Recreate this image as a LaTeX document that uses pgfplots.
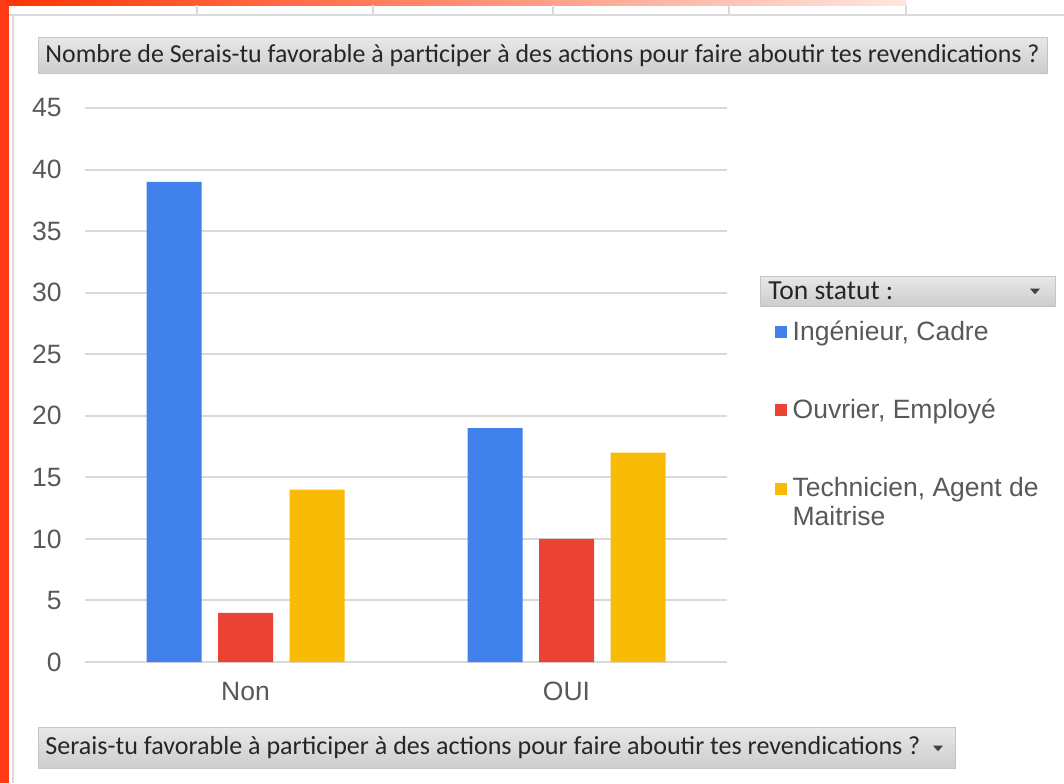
\documentclass[border=0pt]{standalone}
\usepackage{fontspec}
\setmainfont{Liberation Sans}
\newfontfamily\btnfont{Carlito}
\usepackage{pgfplots}
\pgfplotsset{compat=1.18}
\definecolor{cblue}{HTML}{4081EC}
\definecolor{cred}{HTML}{EA4335}
\definecolor{cyellow}{HTML}{F9BB06}
\definecolor{cgrid}{HTML}{D9D9D9}
\definecolor{ctick}{HTML}{595959}
\definecolor{ctop}{HTML}{FF3300}
\definecolor{cleft}{HTML}{FF3A14}
\definecolor{btntop}{HTML}{E8E8E8}
\definecolor{btnbot}{HTML}{CDCDCD}
\definecolor{btnline}{HTML}{C4C4C4}
\definecolor{xlgrid}{HTML}{DADADA}
\pgfplotsset{
  sqimg/.style={legend image code/.code={\fill[##1] (0pt,-3pt) rectangle (6pt,3pt);}},
  sqimgup/.style={legend image code/.code={\fill[##1] (0pt,4.25pt) rectangle (6pt,10.25pt);}},
}
\begin{document}
\begin{tikzpicture}
\useasboundingbox (0,0) rectangle (532pt,-391.5pt);
\fill[white] (0,0) rectangle (532pt,-391.5pt);
% spreadsheet surroundings
\shade[left color=ctop, right color=ctop!12] (0,0) rectangle (453pt,-2.5pt);
\foreach \xx in {98.5,186.5,276.5,364.5,453}{\draw[xlgrid, line width=0.6pt] (\xx pt,-2.5pt) -- (\xx pt,-7.5pt);}
\draw[xlgrid, line width=0.8pt] (4.5pt,-7.6pt) -- (532pt,-7.6pt);
\draw[xlgrid, line width=0.8pt] (6.6pt,-8pt) -- (6.6pt,-391.5pt);
\fill[cleft] (0,0) rectangle (4.5pt,-391.5pt);
% title button
\shade[top color=btntop, bottom color=btnbot, draw=btnline, line width=0.4pt] (19pt,-18.5pt) rectangle (523.5pt,-36.5pt);
\node[anchor=west, inner sep=0pt, text=black!85] at (22.5pt,-27.6pt) {\resizebox{497pt}{!}{\btnfont Nombre de Serais-tu favorable à participer à des actions pour faire aboutir tes revendications ?}};
% bottom field button
\shade[top color=btntop, bottom color=btnbot, draw=btnline, line width=0.4pt] (19pt,-363.5pt) rectangle (477.5pt,-384pt);
\node[anchor=west, inner sep=0pt, text=black!85] at (22.5pt,-374pt) {\resizebox{437.5pt}{!}{\btnfont Serais-tu favorable à participer à des actions pour faire aboutir tes revendications ?}};
\fill[black!75] (466.5pt,-372.8pt) -- (471.5pt,-372.8pt) -- (469pt,-375.6pt) -- cycle;
% legend header button
\shade[top color=btntop, bottom color=btnbot, draw=btnline, line width=0.4pt] (380pt,-138pt) rectangle (527.5pt,-153pt);
\node[anchor=west, inner sep=0pt, text=black!85] at (384pt,-145.5pt) {\resizebox{62.5pt}{!}{\btnfont Ton statut :}};
\fill[black!75] (515pt,-144.3pt) -- (520pt,-144.3pt) -- (517.5pt,-147.1pt) -- cycle;
\begin{axis}[
  at={(42.5pt,-331pt)}, anchor=south west,
  scale only axis, width=321pt, height=277pt,
  xmin=-0.5, xmax=1.5, ymin=0, ymax=45,
  ybar=8.25pt, bar width=27.5pt,
  xtick={0,1}, xticklabels={Non,OUI},
  ytick={0,5,...,45},
  axis line style={draw=none},
  major tick length=0pt,
  ymajorgrids, major grid style={cgrid, line width=1pt},
  /pgf/number format/assume math mode=true,
  tick label style={font=\fontsize{13.25}{15}\selectfont, text=ctick},
  yticklabel style={inner sep=0pt, xshift=-11.5pt},
  xticklabel style={inner sep=0pt, yshift=-10pt},
  legend style={at={(1.0655,0.628)}, anchor=north west, draw=none, fill=none,
    font=\fontsize{13.25}{14.5}\selectfont, text=ctick, row sep=26pt, column sep=1.6pt,
    nodes={inner sep=1pt, align=left}},
  legend cell align=left,
  sqimg,
]
\addplot[fill=cblue, draw=none] coordinates {(0,39) (1,19)};
\addlegendentry{Ingénieur, Cadre}
\addplot[fill=cred, draw=none] coordinates {(0,4) (1,10)};
\addlegendentry{Ouvrier, Employé}
\addplot[fill=cyellow, draw=none, sqimgup] coordinates {(0,14) (1,17)};
\addlegendentry{Technicien, Agent de\\Maitrise}
\end{axis}
\end{tikzpicture}
\end{document}
